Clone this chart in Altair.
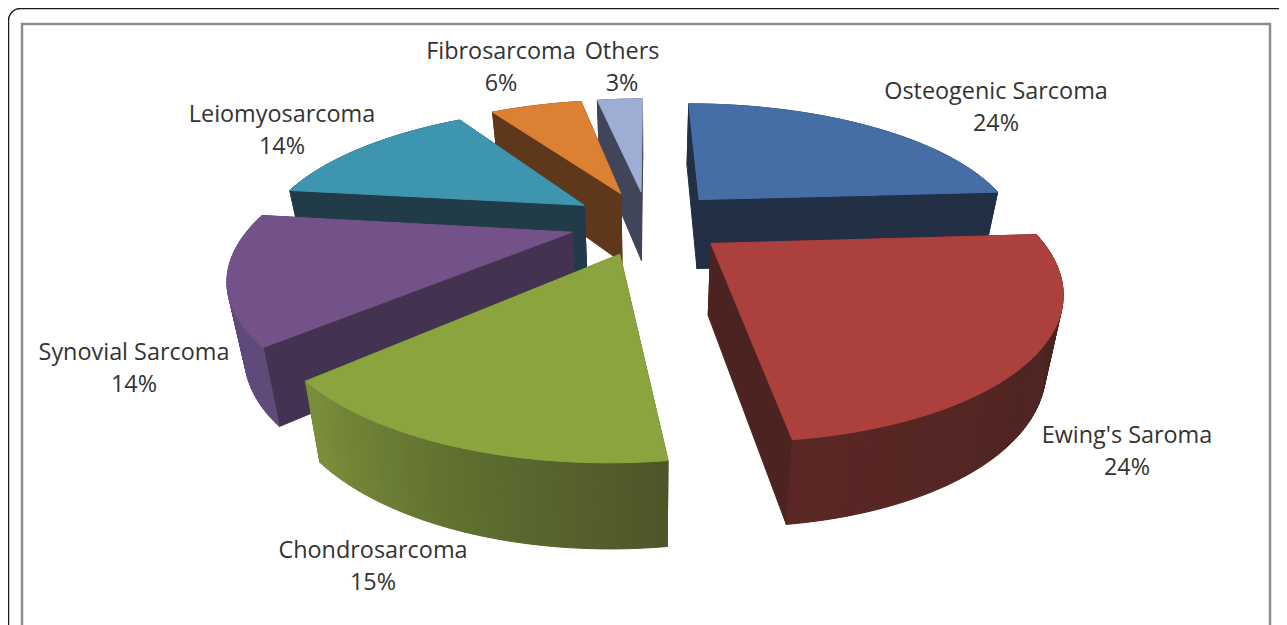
import math
import altair as alt

names = ["Osteogenic Sarcoma", "Ewing's Saroma", "Chondrosarcoma", "Synovial Sarcoma",
         "Leiomyosarcoma", "Fibrosarcoma", "Others"]
values = [24, 24, 15, 14, 14, 6, 3]
pct_labels = ["24%", "24%", "15%", "14%", "14%", "6%", "3%"]
top_colors = ["#456ea6", "#ab403d", "#8ba43e", "#73528a", "#3d95b0", "#dc8033", "#9dadd3"]
wall_colors = ["#232f45", "#4d2322", "#4f5529", "#443350", "#223b49", "#5f381c", "#41455a"]
rim_left = ["#232f45", "#5a2724", "#7b8f3a", "#644a80", "#223b49", "#5f381c", "#41455a"]
rim_mid = ["#232f45", "#4f2422", "#5f7030", "#5f4a7a", "#223b49", "#5f381c", "#41455a"]
rim_right = ["#232f45", "#4a2221", "#4f5529", "#5f4a7a", "#223b49", "#5f381c", "#41455a"]
paint_order = [6, 5, 4, 0, 3, 1, 2]
label_x = [996, 1127, 373, 134, 282, 501, 622]
label_y = [91.5, 435.5, 550.5, 352.5, 114.5, 51.5, 51.5]

W, H = 1271, 617
CX, V0, F, G, D, EXPL, DEPTH, SHRINK = 648, 222, 1200, 495, 3.76, 0.245, 137, 0.958


def top(x, z):
    return (CX + F * x / (D - z), V0 + G * z / (D - z))


def bottom(x, z):
    u, v = top(x, z)
    return (CX + SHRINK * (u - CX), v + DEPTH / math.sqrt(D - z))


def hex_mix(a, b, t):
    pa = [int(a[i:i + 2], 16) for i in (1, 3, 5)]
    pb = [int(b[i:i + 2], 16) for i in (1, 3, 5)]
    return "#%02x%02x%02x" % tuple(round(p + (q - p) * t) for p, q in zip(pa, pb))


def poly(points, fill):
    ring = [list(p) for p in points] + [list(points[0])]
    return {"type": "Feature", "geometry": {"type": "Polygon", "coordinates": [ring]},
            "properties": {"fill": fill}}


total = sum(values)
starts = [sum(values[:i]) / total * 2 * math.pi for i in range(len(values))]
features = []
for i in paint_order:
    a0 = starts[i]
    a1 = a0 + values[i] / total * 2 * math.pi
    mid = (a0 + a1) / 2
    cx, cz = EXPL * math.sin(mid), -EXPL * math.cos(mid)
    n = max(8, int(values[i] * 3))
    rim = [(cx + math.sin(a0 + (a1 - a0) * k / n), cz - math.cos(a0 + (a1 - a0) * k / n))
           for k in range(n + 1)]
    for edge in (rim[-1], rim[0]):
        features.append(poly([top(cx, cz), top(*edge), bottom(*edge), bottom(cx, cz)], wall_colors[i]))
    for k in range(n):
        t = 1 - k / (n - 1)
        col = hex_mix(rim_left[i], rim_mid[i], t * 2) if t < .5 else hex_mix(rim_mid[i], rim_right[i], t * 2 - 1)
        p, q = rim[k], rim[k + 1]
        features.append(poly([top(*p), top(*q), bottom(*q), bottom(*p)], col))
    features.append(poly([top(cx, cz)] + [top(*p) for p in rim], top_colors[i]))

slices = alt.Chart(alt.Data(values=features)).mark_geoshape(strokeWidth=1).encode(
    fill=alt.Fill("properties.fill:N", scale=None),
    stroke=alt.Stroke("properties.fill:N", scale=None),
).project(type="identity", scale=1, translate=[-8, -8])

rows = []
for i in range(len(names)):
    rows.append({"t": names[i], "px": label_x[i], "py": label_y[i]})
    rows.append({"t": pct_labels[i], "px": label_x[i], "py": label_y[i] + 32})

x_scale = alt.Scale(domain=[8, 8 + W], range=[0, W], nice=False, zero=False)
y_scale = alt.Scale(domain=[8, 8 + H], range=[0, H], nice=False, zero=False)
labels = alt.Chart(alt.Data(values=rows)).mark_text(
    font="Open Sans", fontSize=23.4, color="#333333", align="center", baseline="middle"
).encode(
    x=alt.X("px:Q", scale=x_scale, axis=None),
    y=alt.Y("py:Q", scale=y_scale, axis=None),
    text="t:N",
)

frame_data = alt.Data(values=[{"k": 0}])
outer = alt.Chart(frame_data).mark_rect(
    fillOpacity=0, stroke="#1a1a1a", strokeWidth=1.5, cornerRadius=12
).encode(x=alt.value(0.5), x2=alt.value(1290), y=alt.value(0.5), y2=alt.value(720))
inner = alt.Chart(frame_data).mark_rect(
    fillOpacity=0, stroke="#8c8c8c", strokeWidth=2.5
).encode(x=alt.value(14), x2=alt.value(1262), y=alt.value(16), y2=alt.value(720))

chart = alt.layer(outer, inner, slices, labels).properties(
    width=W, height=H, padding=0, background="white",
    autosize=alt.AutoSizeParams(type="none"),
).configure_view(stroke=None)

chart.save("out.html", embed_options={"renderer": "svg", "actions": False})
